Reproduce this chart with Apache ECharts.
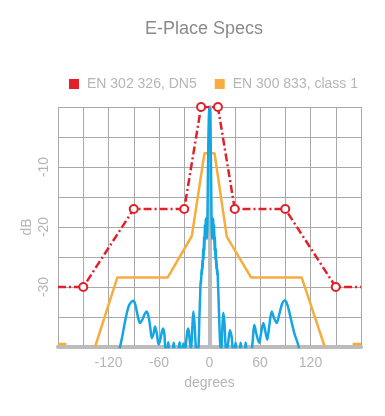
<!DOCTYPE html>
<html>
<head>
<meta charset="utf-8">
<script src="https://cdn.jsdelivr.net/npm/echarts@6/dist/echarts.min.js"></script>
<style>
html,body{margin:0;padding:0;background:#fff;}
#chart{width:385px;height:416px;}
</style>
</head>
<body>
<div id="chart"></div>
<script>
// ---- data ----
const titleText = 'E-Place Specs';
const seriesNames = ['EN 302 326, DN5', 'EN 300 833, class 1'];
const xTickLabels = [-120, -60, 0, 60, 120];
const yTickLabels = [-10, -20, -30];

// EN 302 326, DN5 (red mask)
const redDeg = [-180, -150, -90, -30, -10, 10, 30, 90, 150, 180];
const redDb  = [-30, -30, -17, -17, 0, 0, -17, -17, -30, -30];

// EN 300 833, class 1 (orange mask), null = gap
const orangeDeg = [-180, -170, -155, -136, -109.5, -49.6, -21, -6, 6, 20.5, 49.3, 109.5, 137, 155, 170, 180];
const orangeDb  = [-39.5, -39.5, null, -40, -28.4, -28.4, -21.5, -7.7, -7.7, -21.6, -28.4, -28.4, -40, null, -39.5, -39.5];

// measured pattern (cyan)
const cyanDeg = [
  -108, -104, -100, -96, -93, -90.5, -88, -85, -82.5, -80, -77, -74.6, -72, -70, -68.6, -66.5, -64.7, -62.5, -60.5, -59.6, -58, -56.5, -54.9, -53.5, -52, -50.5, -49, -47.5, -45.5, -44, -42.5, -41, -39, -37.5, -35.5, -34, -32.5, -31, -29.5, -28, -26.5, -25.2, -23.8, -22, -20.5, -19.2, -17.8, -16.5, -15.2,
  -13.3, -12, -11, -10.5, -10, -9.5, -9, -8.5, -8, -7.5, -7, -6.5, -6, -5.5, -5, -4.5, -4, -3.5, -3, -2.5, -2, -1.5, -1, -0.5, 0,
  0.5, 1, 1.5, 2, 2.5, 3, 3.5, 4, 4.5, 5, 5.5, 6, 6.5, 7, 7.5, 8, 8.5, 9, 9.5, 10, 11, 12.5,
  14, 15.2, 16.4, 17.8, 19, 20.4, 22, 24.3, 26.5, 28, 29.5, 31, 32.5, 35.5, 37, 38.5, 41.5, 43, 44.5, 49, 51, 53.2, 56, 59, 61.5, 64, 66.5, 68.6, 71, 73.9, 77, 79.8, 83, 86.5, 89.7, 93, 97, 101, 105.5, 107
];
const cyanDb = [
  -41, -38.5, -35.5, -33.2, -32.5, -32.3, -33, -35, -36, -35.5, -34.5, -34.1, -35.2, -37.2, -38.5, -37.8, -36.6, -37.8, -39.6, -39.3, -38.5, -37.4, -36.9, -38, -40.8, -40.8, -39.2, -40.8, -40.8, -41, -39.3, -40.8, -40.8, -41, -39.2, -40.8, -40.8, -39.4, -40.8, -39.5, -37.5, -36.9, -38.5, -40.5, -37, -34.1, -36, -39.5, -40.8,
  -40.5, -35, -31, -28.8, -29.5, -27, -28, -25.5, -27, -23.5, -25.5, -21.5, -24, -19.5, -22, -18.6, -21, -18.5, -22, -19.5, -13, -7, -3, -0.8, 0,
  -0.8, -3, -7, -13, -19.5, -22, -18.5, -21, -18.6, -22, -19.5, -24, -21.5, -25.5, -23.5, -27, -25.5, -28, -27, -29, -33, -39,
  -40.8, -37, -34.3, -36, -39.5, -40.8, -39.5, -37.2, -38.5, -40.8, -40.8, -39.3, -40.8, -40.8, -39.3, -40.8, -40.8, -39.3, -40.8, -40.8, -39.5, -36.3, -38, -39.3, -37.5, -36, -37.5, -38.8, -36.5, -34.1, -35.3, -36, -34.5, -32.7, -32.2, -33.2, -35.5, -37.8, -39.7, -41
];

// ---- build ----
const pairs = (xs, ys) => xs.map((x, i) => [x, ys[i] === null ? '-' : ys[i]]);
const FONT = '"Liberation Sans", Arial, sans-serif';
const RED = '#e2202a', ORANGE = '#f6ad3e', CYAN = '#14a6e3';

const chart = echarts.init(document.getElementById('chart'), null, {renderer: 'canvas'});
chart.setOption({
  animation: false,
  backgroundColor: '#fff',
  title: {
    text: titleText, left: 140, top: 15,
    textStyle: {fontFamily: FONT, fontSize: 18, fontWeight: 'normal', color: '#8a8a8a'}
  },
  legend: {
    data: [
      {name: seriesNames[0], itemStyle: {color: RED, borderWidth: 0}},
      {name: seriesNames[1], itemStyle: {color: ORANGE, borderWidth: 0}}
    ],
    left: 64, top: 72, itemWidth: 10, itemHeight: 10, itemGap: 18,
    icon: 'rect',
    textStyle: {fontFamily: FONT, fontSize: 14, color: '#b5b5b5', padding: [0, 0, 0, 3]}
  },
  grid: {left: 58, right: 24, top: 107, bottom: 69, containLabel: false},
  xAxis: {
    type: 'value', min: -180, max: 180, interval: 30,
    name: 'degrees', nameLocation: 'middle', nameGap: 29, nameMoveOverlap: false,
    nameTextStyle: {fontFamily: FONT, fontSize: 14, color: '#b5b5b5'},
    axisLine: {show: true, onZero: false, lineStyle: {color: '#bcbcbc', width: 4}},
    axisTick: {show: false},
    axisLabel: {
      fontFamily: FONT, fontSize: 14, color: '#b5b5b5', margin: 9,
      formatter: v => xTickLabels.indexOf(v) >= 0 ? String(v) : ''
    },
    splitLine: {show: true, lineStyle: {color: '#a8a8a8', width: 1}}
  },
  yAxis: {
    type: 'value', min: -40, max: 0, interval: 5,
    name: 'dB', nameLocation: 'middle', nameGap: 24, nameRotate: 90, nameMoveOverlap: false,
    nameTextStyle: {fontFamily: FONT, fontSize: 14, color: '#b5b5b5'},
    axisLine: {show: true, lineStyle: {color: '#bcbcbc', width: 4}},
    axisTick: {show: false},
    axisLabel: {
      fontFamily: FONT, fontSize: 14, color: '#b5b5b5', rotate: 90, margin: 7,
      formatter: v => yTickLabels.indexOf(v) >= 0 ? String(v) : ''
    },
    splitLine: {show: true, lineStyle: {color: '#a8a8a8', width: 1}}
  },
  series: [
    {
      name: seriesNames[1], type: 'line', data: pairs(orangeDeg, orangeDb),
      showSymbol: false, symbol: 'none', connectNulls: false,
      lineStyle: {color: ORANGE, width: 2.5}, itemStyle: {color: ORANGE}, z: 2
    },
    {
      name: 'pattern', type: 'line', data: pairs(cyanDeg, cyanDb),
      symbol: 'none', smooth: 0.3,
      lineStyle: {color: CYAN, width: 2.5}, itemStyle: {color: CYAN}, z: 3
    },
    {
      name: seriesNames[0], type: 'line', data: pairs(redDeg, redDb),
      symbol: 'circle', symbolSize: v => Math.abs(v[0]) === 180 ? 0 : 8,
      showAllSymbol: true,
      lineStyle: {color: RED, width: 2.5, type: [8, 3, 2, 3]},
      itemStyle: {color: '#fff', borderColor: RED, borderWidth: 2}, z: 4
    }
  ]
});
</script>
</body>
</html>
